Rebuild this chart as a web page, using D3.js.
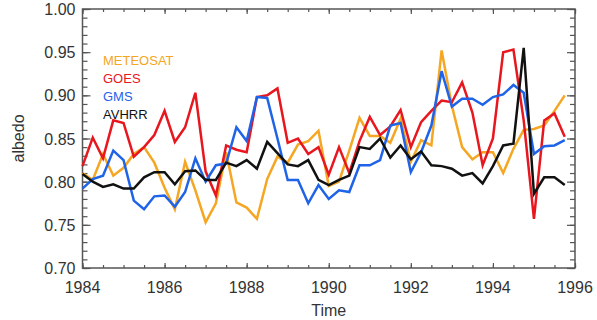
<!DOCTYPE html>
<html lang="en">
<head>
    <meta charset="UTF-8">
    <script src="https://cdn.jsdelivr.net/npm/d3@7"></script>
    <title>Albedo time series</title>
    <style>
        body { margin: 0; background: #fff; }
        text { font-family: "Liberation Sans", Arial, sans-serif; }
    </style>
</head>
<body>
    <div class="fig"></div>

    <script>
        // quarterly samples starting at 1984.0
        const startYear = 1984;
        const step = 0.25;

        const meteosat = [0.810, 0.802, 0.832, 0.807, 0.816, 0.832, 0.840, 0.822, 0.793, 0.768, 0.823, 0.790,
                          0.753, 0.775, 0.834, 0.776, 0.770, 0.757, 0.803, 0.829, 0.822, 0.843, 0.847, 0.859,
                          0.795, 0.800, 0.836, 0.874, 0.853, 0.853, 0.845, 0.873, 0.823, 0.848, 0.842, 0.952,
                          0.888, 0.840, 0.826, 0.834, 0.834, 0.810, 0.838, 0.860, 0.861, 0.865, 0.882, 0.900];
        const goes = [0.818, 0.851, 0.827, 0.871, 0.868, 0.829, 0.840, 0.854, 0.882, 0.846, 0.863, 0.903,
                      0.812, 0.784, 0.842, 0.837, 0.834, 0.898, 0.900, 0.908, 0.845, 0.850, 0.832, 0.840,
                      0.808, 0.840, 0.810, 0.847, 0.875, 0.854, 0.864, 0.883, 0.840, 0.869, 0.882, 0.894,
                      0.892, 0.915, 0.880, 0.819, 0.850, 0.950, 0.953, 0.871, 0.757, 0.871, 0.879, 0.852];
        const gms = [0.792, 0.803, 0.807, 0.836, 0.825, 0.778, 0.768, 0.783, 0.784, 0.771, 0.788, 0.827,
                     0.800, 0.819, 0.821, 0.863, 0.847, 0.898, 0.897, 0.850, 0.802, 0.802, 0.775, 0.796,
                     0.780, 0.790, 0.788, 0.819, 0.819, 0.825, 0.865, 0.868, 0.811, 0.834, 0.865, 0.928,
                     0.887, 0.896, 0.896, 0.889, 0.898, 0.901, 0.912, 0.903, 0.832, 0.841, 0.842, 0.848];
        const avhrr = [0.809, 0.800, 0.794, 0.797, 0.792, 0.792, 0.805, 0.811, 0.811, 0.797, 0.812, 0.813,
                       0.802, 0.802, 0.822, 0.818, 0.825, 0.815, 0.846, 0.833, 0.820, 0.818, 0.825, 0.802,
                       0.796, 0.802, 0.807, 0.840, 0.838, 0.850, 0.828, 0.842, 0.826, 0.835, 0.819, 0.818,
                       0.815, 0.807, 0.810, 0.798, 0.818, 0.842, 0.844, 0.955, 0.786, 0.805, 0.805, 0.796];

        const seriesNames = ["METEOSAT", "GOES", "GMS", "AVHRR"];
        const seriesColors = ["#f5a623", "#e8161e", "#1f63e8", "#111111"];
        const seriesValues = [meteosat, goes, gms, avhrr];

        const xTicks = [1984, 1986, 1988, 1990, 1992, 1994, 1996];
        const yTicks = [0.70, 0.75, 0.80, 0.85, 0.90, 0.95, 1.00];

        /*------------------- Window setting --------------------*/
        const width = 597;
        const height = 320;
        const margin = { left: 82.5, right: 22, top: 9, bottom: 52 };

        const svg = d3.select(".fig").append("svg")
            .attr("width", width)
            .attr("height", height);

        const x = d3.scaleLinear()
            .domain([1984, 1996])
            .range([margin.left, width - margin.right]);

        const y = d3.scaleLinear()
            .domain([0.70, 1.00])
            .range([height - margin.bottom, margin.top]);

        const axisColor = "#555";

        // IDL style box: ticks point inwards on all four sides
        const addTicks = (axisGen, tx, ty, major, minor, majorLen, minorLen) => {
            svg.append("g")
                .attr("transform", `translate(${tx},${ty})`)
                .call(axisGen.tickValues(minor).tickSize(minorLen).tickFormat(""))
                .call(g => g.select(".domain").remove())
                .selectAll("line").attr("stroke", axisColor).attr("stroke-width", 1.2);
            svg.append("g")
                .attr("transform", `translate(${tx},${ty})`)
                .call(axisGen.tickValues(major).tickSize(majorLen).tickFormat(""))
                .call(g => g.select(".domain").remove())
                .selectAll("line").attr("stroke", axisColor).attr("stroke-width", 1.2);
        };

        const xMinor = d3.range(1984, 1996.01, 0.5);
        const yMinor = d3.range(0.70, 1.0001, 0.01);

        addTicks(d3.axisTop(x), 0, y(0.70), xTicks, xMinor, 5, 3);
        addTicks(d3.axisBottom(x), 0, y(1.00), xTicks, xMinor, 5, 3);
        addTicks(d3.axisRight(y), x(1984), 0, yTicks, yMinor, 8, 5);
        addTicks(d3.axisLeft(y), x(1996), 0, yTicks, yMinor, 8, 5);

        // frame
        svg.append("rect")
            .attr("x", x(1984))
            .attr("y", y(1.00))
            .attr("width", x(1996) - x(1984))
            .attr("height", y(0.70) - y(1.00))
            .attr("fill", "none")
            .attr("stroke", axisColor)
            .attr("stroke-width", 1.5);

        // tick labels
        svg.selectAll(".xlab")
            .data(xTicks)
            .enter()
            .append("text")
            .attr("x", d => x(d))
            .attr("y", 293)
            .attr("text-anchor", "middle")
            .attr("font-size", 16)
            .attr("fill", "#333")
            .text(d => d);

        svg.selectAll(".ylab")
            .data(yTicks)
            .enter()
            .append("text")
            .attr("x", x(1984) - 7)
            .attr("y", d => y(d) + 6)
            .attr("text-anchor", "end")
            .attr("font-size", 16)
            .attr("fill", "#333")
            .text(d => d3.format(".2f")(d));

        // axis titles
        svg.append("text")
            .attr("x", (x(1984) + x(1996)) / 2)
            .attr("y", 316)
            .attr("text-anchor", "middle")
            .attr("font-size", 16)
            .attr("fill", "#333")
            .text("Time");

        svg.append("text")
            .attr("transform", `translate(24,${(y(0.70) + y(1.00)) / 2}) rotate(-90)`)
            .attr("text-anchor", "middle")
            .attr("font-size", 16)
            .attr("fill", "#333")
            .text("albedo");

        // lines
        const line = d3.line()
            .x((d, i) => x(startYear + i * step))
            .y(d => y(d));

        seriesValues.forEach((vals, k) => {
            svg.append("path")
                .datum(vals)
                .attr("d", line)
                .attr("fill", "none")
                .attr("stroke", seriesColors[k])
                .attr("stroke-width", 2.5)
                .attr("stroke-linejoin", "miter");
        });

        // legend
        svg.selectAll(".legend")
            .data(seriesNames)
            .enter()
            .append("text")
            .attr("x", 103)
            .attr("y", (d, i) => 65 + i * 18)
            .attr("font-size", 13)
            .attr("fill", (d, i) => seriesColors[i])
            .text(d => d);
    </script>
</body>
</html>
